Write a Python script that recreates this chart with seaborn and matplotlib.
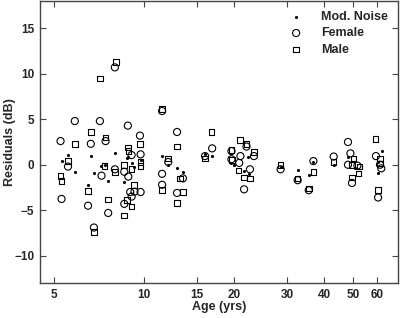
import matplotlib
matplotlib.use('Agg')
import matplotlib.pyplot as plt
import matplotlib.ticker as mticker
import seaborn as sns
import pandas as pd

# --- dados --- #
noise_age = [5.58, 5.31, 5.88, 6.65, 6.81, 6.51, 7.19, 7.4, 7.6, 8.0, 8.57, 8.8, 8.87,
             9.75, 9.1, 9.26, 11.5, 12.06, 12.9, 13.5, 16.0, 16.9, 19.6, 20.0, 21.6,
             22.2, 22.5, 28.6, 32.6, 35.5, 36.8, 43.0, 47.9, 50.8, 60.3, 62.2, 60.5]
noise_res = [1.06, 0.44, -0.77, 0.95, -0.94, -2.2, -0.14, 0.0, -1.8, 1.3, -1.9, 0.7, 0.9,
             0.5, 0.2, -0.3, 0.95, 0.0, -0.4, -0.8, 1.2, 1.0, 0.15, 0.0, -0.65,
             0.9, -1.0, -0.3, -0.58, -1.1, 0.3, 0.0, 0.8, -0.35, 0.33, 1.5, -0.94]

female_age = [8.0, 11.5, 5.88, 7.13, 8.84, 7.45, 9.7, 12.9, 5.27, 6.65, 5.58, 5.31, 6.51,
              6.81, 7.22, 7.6, 8.0, 8.6, 8.87, 9.1, 9.0, 9.1, 8.6, 9.75, 9.75, 9.3,
              12.06, 11.5, 11.5, 12.9, 16.9, 16.0, 13.5, 19.6, 22.0, 21.0, 23.3, 19.6,
              20.8, 22.6, 21.6, 28.6, 32.6, 35.5, 36.8, 43.0, 48.9, 48.0, 48.0, 51.6,
              49.5, 59.5, 61.4, 62.0, 60.5]
female_res = [10.7, 5.9, 4.8, 4.8, 4.3, 2.6, 3.2, 3.6, 2.6, 2.3, -0.2, -3.76, -4.5,
              -6.9, -1.2, -5.3, -0.5, -0.77, -1.3, 1.06, -3.0, -3.5, -4.3, 1.14, -3.0, -2.96,
              0.3, -1.0, -2.2, -3.1, 1.8, 0.95, -1.5, 1.5, 2.0, 0.95, 0.95, 0.6,
              0.2, -0.5, -2.7, -0.5, -1.7, -2.8, 0.4, 0.9, 1.25, 2.5, 0.0, -0.1,
              -2.0, 0.95, 0.0, -0.4, -3.6]

male_age = [8.06, 7.13, 11.5, 6.65, 7.45, 5.88, 8.84, 9.7, 12.9, 5.58, 5.27, 5.31, 6.51,
            6.81, 7.4, 7.6, 8.0, 8.6, 8.87, 9.1, 9.26, 8.8, 9.1, 8.6, 9.75, 9.75,
            12.06, 11.5, 12.9, 13.2, 16.0, 13.5, 16.8, 19.6, 20.9, 22.0, 23.3, 19.7,
            20.7, 21.6, 22.6, 28.6, 32.6, 35.5, 36.8, 43.0, 59.3, 50.1, 49.6, 52.5,
            52.0, 49.5, 61.4, 61.4, 60.5]
male_res = [11.3, 9.5, 6.1, 3.6, 3.0, 2.3, 1.9, 2.3, 2.0, 0.4, -1.24, -1.8, -2.9,
            -7.4, -0.14, -3.8, -0.8, 0.0, 1.5, -0.47, -2.2, -3.9, -4.6, -5.6, 0.33, -0.14,
            0.7, -2.8, -4.2, -1.5, 0.7, -3.0, 3.6, 1.6, 2.7, 2.3, 1.4, 0.5,
            -0.65, -1.4, -1.5, 0.0, -1.5, -2.6, -0.8, 0.33, 2.8, 0.7, 0.0, -0.2,
            -0.94, -1.4, 0.7, 0.15, -2.8]

x_ticks = [5, 10, 15, 20, 30, 40, 50, 60]
y_ticks = [-10, -5, 0, 5, 10, 15]

df_noise = pd.DataFrame({'age': noise_age, 'res': noise_res})
df_female = pd.DataFrame({'age': female_age, 'res': female_res})
df_male = pd.DataFrame({'age': male_age, 'res': male_res})

sns.set_style('ticks')
plt.rcParams['font.family'] = ['Liberation Sans', 'DejaVu Sans']

fig = plt.figure(figsize=(4.0, 3.18), dpi=100)
ax = fig.add_axes([0.1, 0.11, 0.895, 0.887])

sns.scatterplot(data=df_noise, x='age', y='res', ax=ax, marker='o', s=5,
                color='black', edgecolor='black', linewidth=0, label='Mod. Noise')
sns.scatterplot(data=df_female, x='age', y='res', ax=ax, marker='o', s=26,
                facecolor='none', edgecolor='black', linewidth=0.8, label='Female')
sns.scatterplot(data=df_male, x='age', y='res', ax=ax, marker='s', s=16,
                facecolor='none', edgecolor='black', linewidth=0.8, label='Male')

ax.set_xscale('log')
ax.set_xlim(4.5, 70.5)
ax.set_ylim(-13, 18)
ax.xaxis.set_major_locator(mticker.FixedLocator(x_ticks))
ax.xaxis.set_major_formatter(mticker.FixedFormatter([str(t) for t in x_ticks]))
ax.xaxis.set_minor_locator(mticker.NullLocator())
ax.set_yticks(y_ticks)

for sp in ax.spines.values():
    sp.set_visible(True)
    sp.set_color('#444444')
    sp.set_linewidth(1.0)
ax.tick_params(direction='in', length=4, width=0.8, color='#444444',
               top=True, right=True, labelsize=8.5, pad=4)
for lab in ax.get_xticklabels() + ax.get_yticklabels():
    lab.set_fontweight('bold')

ax.set_xlabel('Age (yrs)', fontsize=9, fontweight='bold', labelpad=0)
ax.set_ylabel('Residuals (dB)', fontsize=9, fontweight='bold', labelpad=-1)

ax.legend(loc='upper right', frameon=False, prop={'weight': 'bold', 'size': 9},
          handletextpad=1.0, labelspacing=0.35, borderaxespad=0.4, markerscale=1.0)

fig.savefig('out.png', dpi=100)
